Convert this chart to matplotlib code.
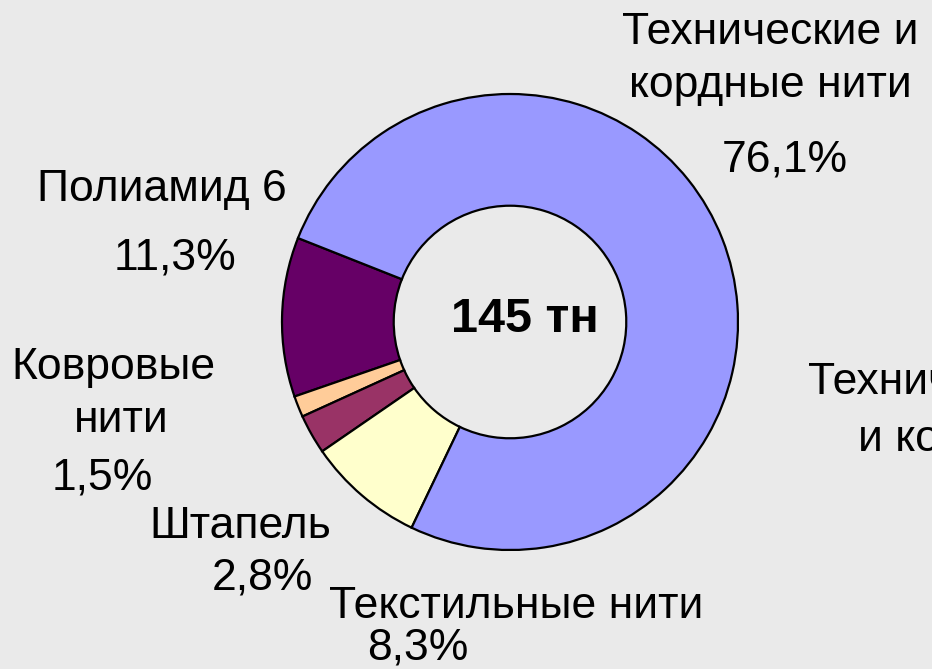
import matplotlib.pyplot as plt

plt.rcParams['font.family'] = ['Liberation Sans', 'DejaVu Sans']

# data (counterclockwise order, starting at the Polyamide / Technical boundary)
labels = ['Полиамид 6', 'Ковровые нити', 'Штапель', 'Текстильные нити',
          'Технические и кордные нити']
shares = [11.3, 1.5, 2.8, 8.3, 76.1]
colors = ['#660066', '#FFCC99', '#993366', '#FFFFCC', '#9999FF']
total_text = '145 тн'

W, H = 932, 669
bg = '#EAEAEA'

fig = plt.figure(figsize=(W / 100, H / 100), dpi=100, facecolor=bg)
ax = fig.add_axes([0, 0, 1, 1])

cx, cy = 510, H - 322
R = 228
ax.pie(shares, colors=colors, startangle=158.4, counterclock=True,
       center=(cx, cy), radius=R, frame=True,
       wedgeprops=dict(width=R * 0.49, edgecolor='black', linewidth=1.6))
ax.set_xlim(0, W)
ax.set_ylim(0, H)
ax.set_aspect('equal')
ax.axis('off')

ax.text(cx + 15, cy + 2, total_text, ha='center', va='center', fontsize=35,
        fontweight='bold')

fs = 32
def lab(x, y, s):
    ax.text(x, H - y, s, ha='center', va='center', fontsize=fs)

pct = ['%.1f%%' % v for v in shares]
pct = [p.replace('.', ',') for p in pct]

lab(770, 32, 'Технические и')
lab(770, 86, 'кордные нити')
lab(785, 160, pct[4])
lab(162, 190, labels[0])
lab(175, 258, pct[0])
lab(113, 368, 'Ковровые')
lab(121, 420, 'нити')
lab(102, 478, pct[1])
lab(240, 527, labels[2])
lab(262, 578, pct[2])
lab(516, 606, labels[3])
lab(418, 648, pct[3])

# legend-like label cut off by the right edge, as in the original
ax.text(808, H - 382, 'Технические', ha='left', va='center', fontsize=fs)
ax.text(858, H - 440, 'и кордные', ha='left', va='center', fontsize=fs)

fig.savefig('out.png', dpi=100, facecolor=bg)
